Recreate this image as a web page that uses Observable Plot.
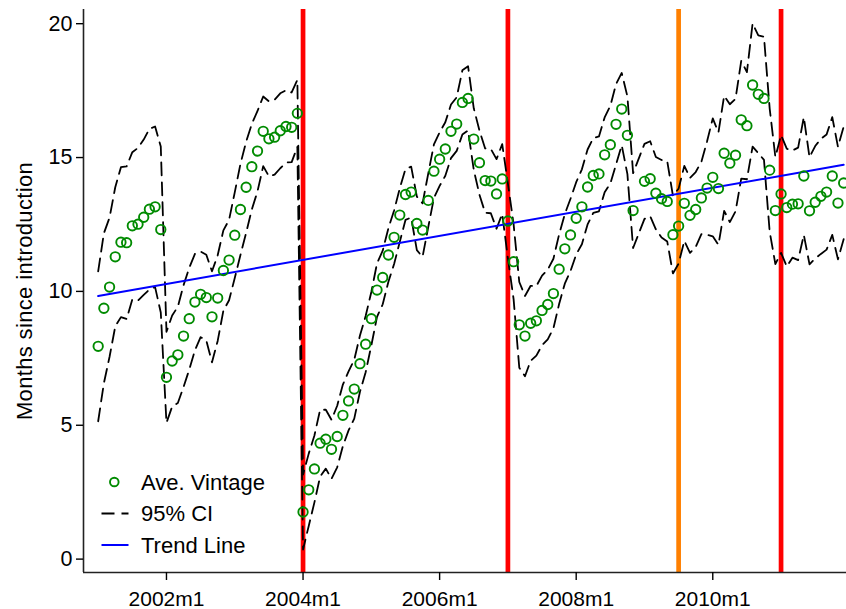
<!DOCTYPE html>
<html><head><meta charset="utf-8">
<script src="https://cdn.jsdelivr.net/npm/d3@7"></script>
<script src="https://cdn.jsdelivr.net/npm/@observablehq/plot@0.6"></script>
<style>
html,body{margin:0;padding:0;background:#fff;}
#chart{position:relative;width:846px;height:609px;}
</style></head><body><div id="chart"></div>
<script>
// ---- data (monthly, starting 2001m1) ----
const startYear = 2001, startMonth = 1;
const vintage = [
 7.95, 9.37,10.16,11.29,11.84,11.82,12.45,12.51,12.77,13.07,13.16,12.31,
 6.79, 7.40, 7.63, 8.33, 8.98, 9.60, 9.89, 9.77, 9.05, 9.75,10.78,11.17,
12.10,13.06,13.89,14.66,15.24,15.98,15.70,15.76,16.00,16.16,16.13,16.65,
 1.76, 2.59, 3.37, 4.33, 4.48, 4.10, 4.58, 5.37, 5.91, 6.35, 7.30, 8.03,
 8.98,10.05,10.52,11.36,12.02,12.85,13.62,13.71,12.54,12.29,13.40,14.49,
14.94,15.32,15.98,16.25,17.06,17.21,15.69,14.81,14.14,14.12,13.64,14.20,
12.63,11.11, 8.75, 8.33, 8.81, 8.90, 9.29, 9.51, 9.92,10.83,11.59,12.11,
12.73,13.16,13.90,14.33,14.39,15.10,15.48,16.24,16.81,15.83,13.02, null,
14.11,14.21,13.67,13.46,13.36,12.12,12.44,13.29,12.84,13.06,13.49,13.86,
14.26,13.84,15.16,14.79,15.09,16.41,16.19,17.71,17.36,17.21,14.53,13.02,
13.64,13.13,13.26,13.27,14.31,13.01,13.33,13.55,13.71,14.31,13.30,14.05];
const ciUpper = [
10.75,12.17,12.76,13.89,14.64,14.67,15.20,15.36,15.67,16.07,16.16,15.41,
 8.49, 9.10, 9.43,10.23,10.88,11.40,11.49,11.37,10.75,11.35,12.28,12.67,
13.70,14.76,15.59,16.26,16.74,17.28,17.10,17.16,17.40,17.51,17.43,17.90,
 3.16, 3.94, 4.62, 5.58, 5.58, 5.20, 5.73, 6.52, 7.01, 7.45, 8.35, 9.08,
 9.98,11.05,11.52,12.36,13.02,13.85,14.57,14.66,13.54,13.29,14.40,15.49,
15.94,16.32,16.98,17.25,18.26,18.41,16.84,16.01,15.34,15.32,14.94,15.50,
14.03,12.51,10.35, 9.83,10.21,10.20,10.59,10.81,11.22,12.13,12.89,13.46,
14.08,14.56,15.30,15.73,15.79,16.50,16.93,17.74,18.16,17.28,14.42, null,
15.51,15.61,15.02,14.91,14.86,13.57,13.84,14.69,14.24,14.46,14.84,15.61,
16.46,15.94,17.31,16.99,17.19,18.61,18.19,20.01,19.56,19.51,16.83,15.02,
15.84,15.33,15.26,15.37,16.51,15.01,15.43,15.70,15.86,16.51,15.40,16.15];
const ciLower = [
 5.15, 6.57, 7.56, 8.69, 9.04, 8.97, 9.70, 9.66, 9.87,10.07,10.16, 9.21,
 5.09, 5.70, 5.83, 6.43, 7.08, 7.80, 8.29, 8.17, 7.35, 8.15, 9.28, 9.67,
10.50,11.36,12.19,13.06,13.74,14.68,14.30,14.36,14.60,14.81,14.83,15.40,
 0.36, 1.24, 2.12, 3.08, 3.38, 3.00, 3.43, 4.22, 4.81, 5.25, 6.25, 6.98,
 7.98, 9.05, 9.52,10.36,11.02,11.85,12.67,12.76,11.54,11.29,12.40,13.49,
13.94,14.32,14.98,15.25,15.86,16.01,14.54,13.61,12.94,12.92,12.34,12.90,
11.23, 9.71, 7.15, 6.83, 7.41, 7.60, 7.99, 8.21, 8.62, 9.53,10.29,10.76,
11.38,11.76,12.50,12.93,12.99,13.70,14.03,14.74,15.46,14.38,11.62, null,
12.71,12.81,12.32,12.01,11.86,10.67,11.04,11.89,11.44,11.66,12.14,12.11,
12.06,11.74,13.01,12.59,12.99,14.21,14.19,15.41,15.16,14.91,12.23,11.02,
11.44,10.93,11.26,11.17,12.11,11.01,11.23,11.40,11.56,12.11,11.20,11.95];
const trendMonths = ["2001m1", "2011m12"];
const trendValues = [9.83, 14.73];
const eventMonths = ["2004m1", "2007m1", "2009m7", "2011m1"];
const eventColors = ["#ff0000", "#ff0000", "#ff8000", "#ff0000"];
const xTickMonths = ["2002m1", "2004m1", "2006m1", "2008m1", "2010m1"];
const yTicks = [0, 5, 10, 15, 20];
const legendLabels = ["Ave. Vintage", "95% CI", "Trend Line"];
const yTitle = "Months since introduction";

// ---- helpers ----
function monthIndex(s) { const [y, m] = s.split("m").map(Number); return (y - startYear) * 12 + (m - startMonth); }
function monthLabel(i) { const k = startMonth - 1 + i; return `${startYear + Math.floor(k / 12)}m${(k % 12) + 1}`; }

const rows = vintage.map((v, i) => ({t: i, v, hi: ciUpper[i], lo: ciLower[i]})).filter(d => d.v != null);
const trend = trendMonths.map((m, i) => ({t: monthIndex(m), v: trendValues[i]}));
const events = eventMonths.map((m, i) => ({t: monthIndex(m), color: eventColors[i]}));
const xDomain = [-2.58, 131.5];
const yDomain = [-0.5, 20.53];

const green = "#008b00";
const font = "'Liberation Sans', Arial, Helvetica, sans-serif";

const chart = Plot.plot({
  width: 846, height: 609,
  marginLeft: 83, marginRight: 0, marginTop: 9, marginBottom: 37,
  style: {fontSize: "21px", fontFamily: font, color: "#000", background: "#fff", overflow: "visible"},
  x: {domain: xDomain},
  y: {domain: yDomain},
  marks: [
    Plot.ruleX(events, {x: "t", stroke: d => d.color, strokeWidth: 4.7}),
    Plot.ruleY([yDomain[0]], {stroke: "#222", strokeWidth: 1.6}),
    Plot.ruleX([xDomain[0]], {stroke: "#222", strokeWidth: 1.6}),
    Plot.axisX(xTickMonths.map(monthIndex), {tickFormat: monthLabel, tickSize: 8, tickPadding: 11, strokeWidth: 1.4, label: null, fontSize: 21}),
    Plot.axisY(yTicks, {tickSize: 7, tickPadding: 4, strokeWidth: 1.4, label: null, fontSize: 21.5}),
    Plot.line(rows, {x: "t", y: "hi", stroke: "#000", strokeWidth: 1.8, strokeDasharray: "13,7"}),
    Plot.line(rows, {x: "t", y: "lo", stroke: "#000", strokeWidth: 1.8, strokeDasharray: "13,7"}),
    Plot.line(trend, {x: "t", y: "v", stroke: "#0000ff", strokeWidth: 2}),
    Plot.dot(rows, {x: "t", y: "v", r: 4.7, stroke: green, strokeWidth: 1.9, fill: "none"})
  ]
});
document.getElementById("chart").appendChild(chart);

// ---- y title and legend (text / decoration) ----
const svg = d3.select(chart);
svg.append("text")
  .attr("transform", "translate(32,291) rotate(-90)")
  .attr("text-anchor", "middle")
  .attr("font-family", font).attr("font-size", 22).attr("letter-spacing", "0.35px")
  .attr("fill", "#000")
  .text(yTitle);

const lg = svg.append("g").attr("font-family", font).attr("font-size", 22).attr("fill", "#000")
  .attr("text-anchor", "start");
const rowY = [482, 513.5, 545];
lg.append("circle").attr("cx", 114.3).attr("cy", rowY[0]).attr("r", 4.3)
  .attr("fill", "none").attr("stroke", green).attr("stroke-width", 1.9);
lg.append("line").attr("x1", 101.5).attr("x2", 128.5).attr("y1", rowY[1]).attr("y2", rowY[1])
  .attr("stroke", "#000").attr("stroke-width", 1.8).attr("stroke-dasharray", "13,7");
lg.append("line").attr("x1", 101.5).attr("x2", 128.5).attr("y1", rowY[2]).attr("y2", rowY[2])
  .attr("stroke", "#0000ff").attr("stroke-width", 2);
legendLabels.forEach((s, i) => {
  lg.append("text").attr("x", 141).attr("y", rowY[i] + 7.8).attr("text-anchor", "start").text(s);
});
</script>
</body></html>
